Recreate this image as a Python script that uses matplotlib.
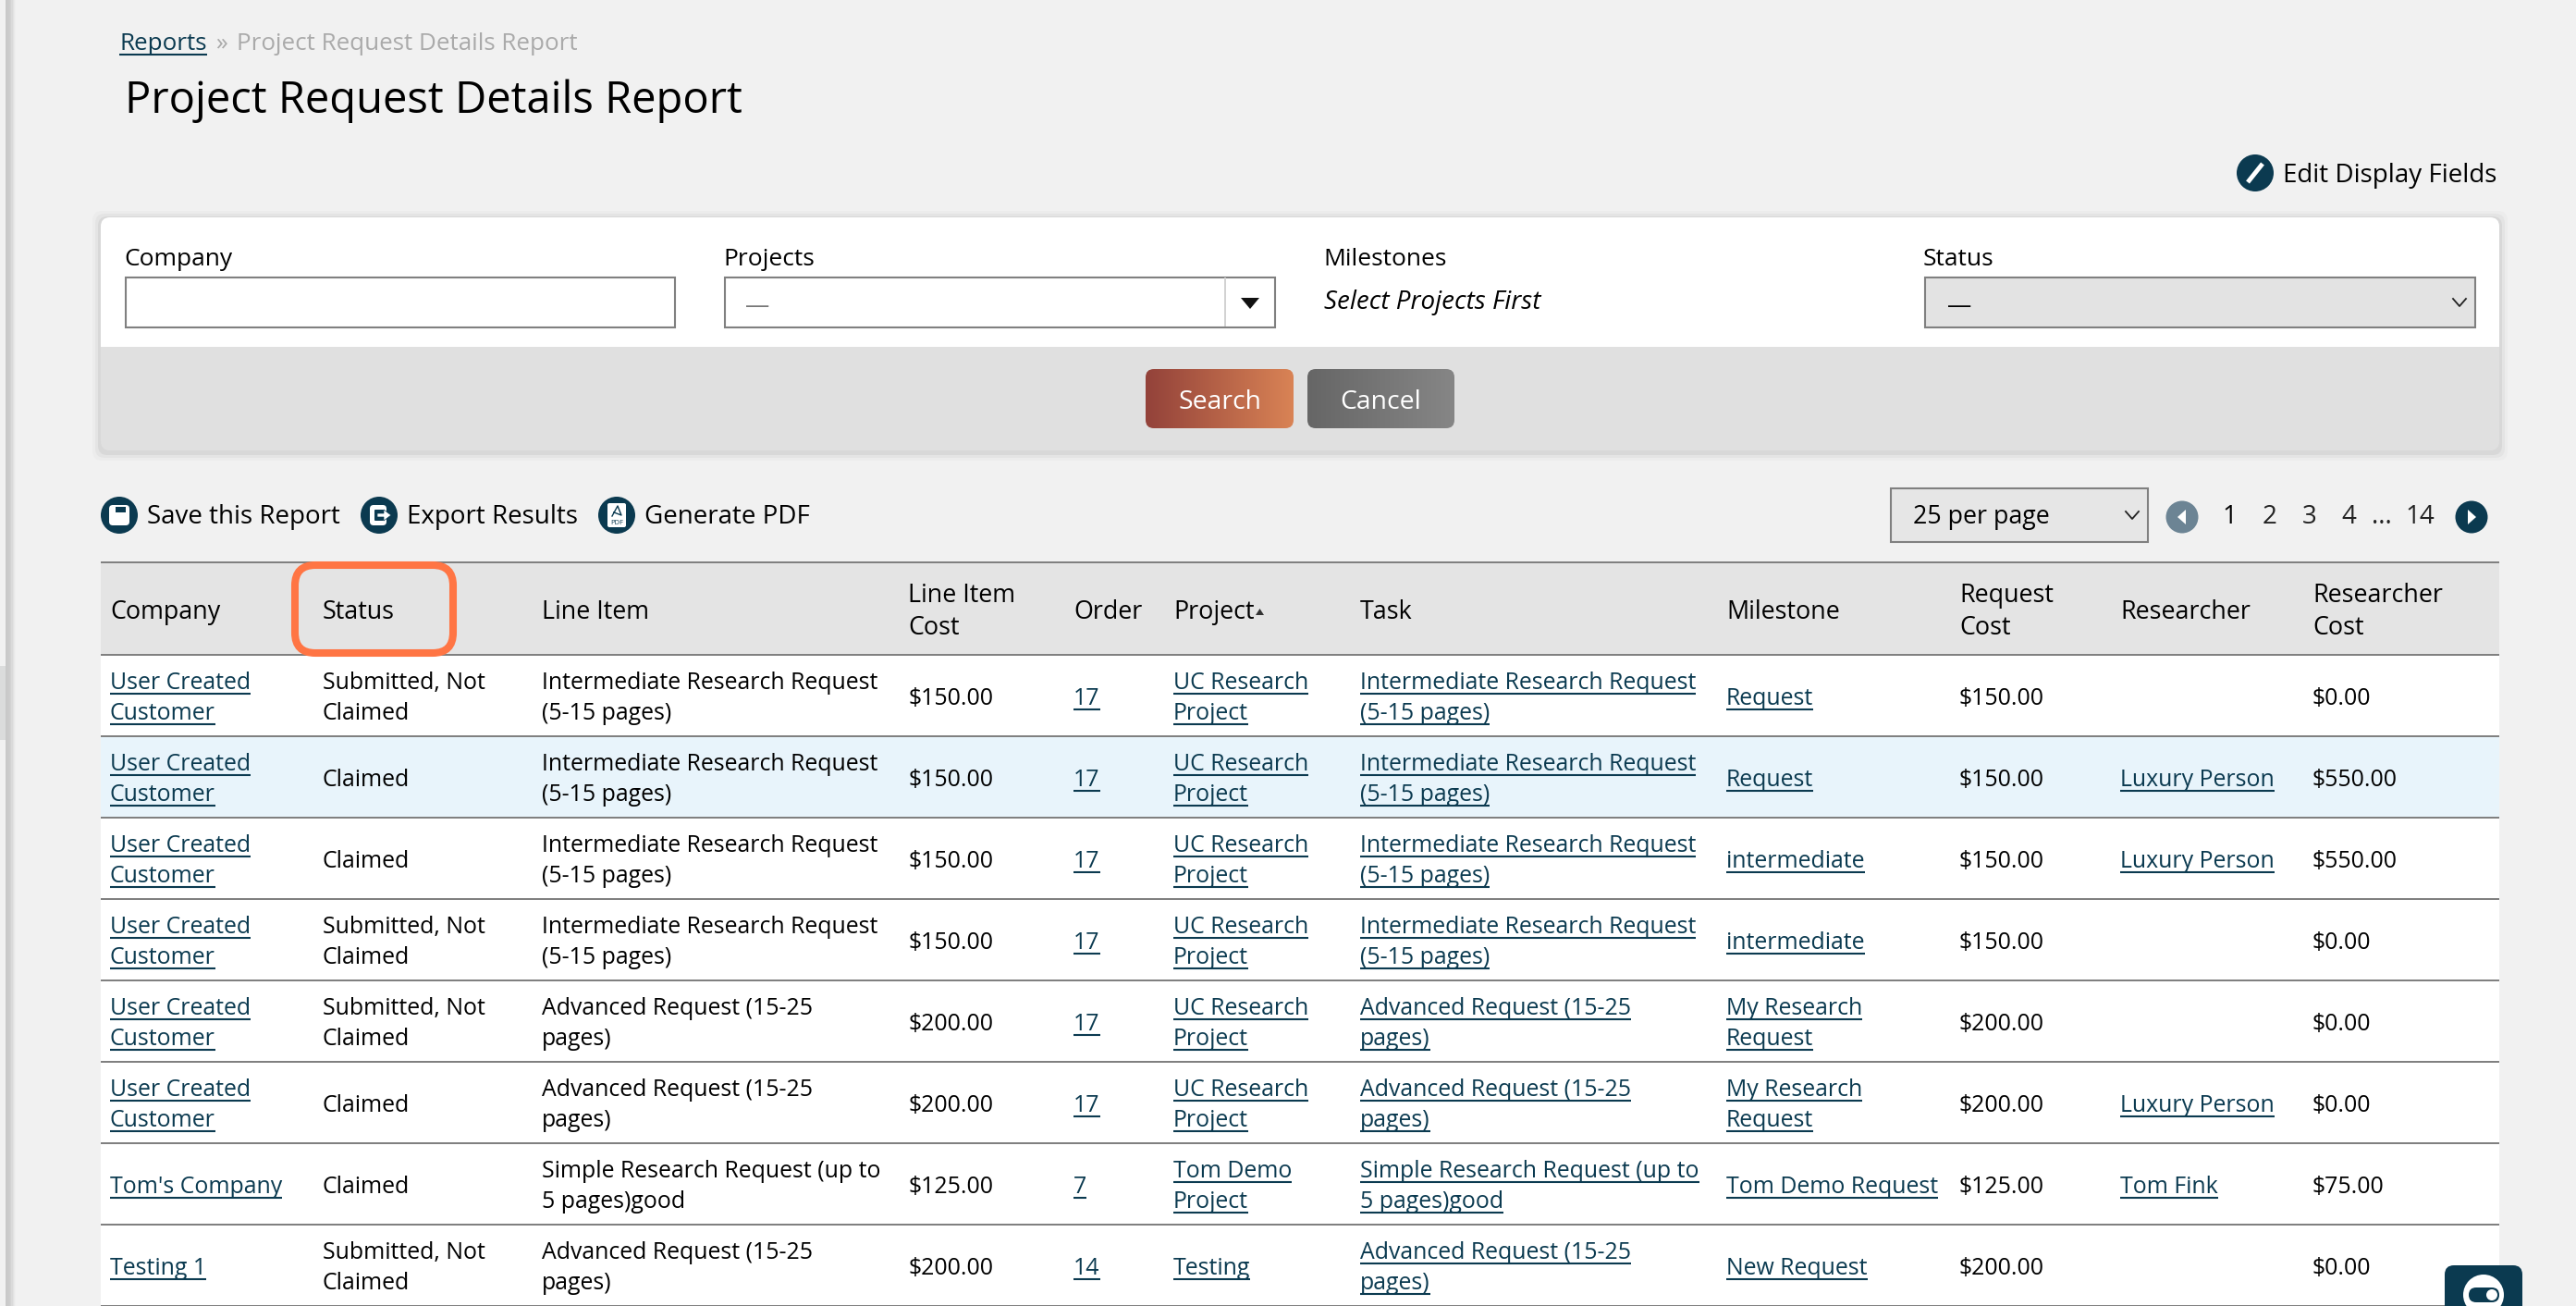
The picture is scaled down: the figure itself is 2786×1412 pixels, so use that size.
# Project Request Details Report, drawn on one pixel-sized axes
import matplotlib
matplotlib.use('Agg')
import matplotlib.pyplot as plt
from matplotlib.patches import FancyBboxPatch, Rectangle, Circle, Polygon
from matplotlib.colors import LinearSegmentedColormap
import numpy as np

W = 2786
H = 1412
plt.rcParams['font.family'] = ['Open Sans', 'DejaVu Sans']

DARK = '#0b3a50'
BORDER = '#808080'
CELL = 17.9
HEAD = 19.4
UI = 20.0
LABEL = 19.0

# table data
headers = ['Company', 'Status', 'Line Item', 'Line Item\nCost', 'Order', 'Project', 'Task',
           'Milestone', 'Request\nCost', 'Researcher', 'Researcher\nCost']
company = ['User Created\nCustomer'] * 6 + ["Tom's Company", 'Testing 1']
status = ['Submitted, Not\nClaimed', 'Claimed', 'Claimed', 'Submitted, Not\nClaimed',
          'Submitted, Not\nClaimed', 'Claimed', 'Claimed', 'Submitted, Not\nClaimed']
intermediate = 'Intermediate Research Request\n(5-15 pages)'
advanced = 'Advanced Request (15-25\npages)'
simple = 'Simple Research Request (up to\n5 pages)good'
line_item = [intermediate] * 4 + [advanced] * 2 + [simple, advanced]
line_cost = ['$150.00'] * 4 + ['$200.00'] * 2 + ['$125.00', '$200.00']
order = ['17', '17', '17', '17', '17', '17', '7', '14']
project = ['UC Research\nProject'] * 6 + ['Tom Demo\nProject', 'Testing']
task = [intermediate] * 4 + [advanced] * 2 + [simple, advanced]
milestone = ['Request', 'Request', 'intermediate', 'intermediate', 'My Research\nRequest',
             'My Research\nRequest', 'Tom Demo Request', 'New Request']
req_cost = line_cost
researcher = ['', 'Luxury Person', 'Luxury Person', '', '', 'Luxury Person', 'Tom Fink', '']
researcher_cost = ['$0.00', '$550.00', '$550.00', '$0.00', '$0.00', '$0.00', '$75.00', '$0.00']

columns = [company, status, line_item, line_cost, order, project, task, milestone,
           req_cost, researcher, researcher_cost]
column_x = [119, 349, 586, 982, 1161, 1269, 1471, 1867, 2119, 2293, 2501]
column_link = [True, False, False, False, True, True, True, True, False, True, False]
page_labels = ['1', '2', '3', '4', '...', '14']
page_x = [2411, 2455, 2498, 2540, 2576, 2617]

fig = plt.figure(figsize=(W / 100, H / 100), dpi=100, facecolor='#f1f1f1')
ax = fig.add_axes([0, 0, 1, 1])
ax.set_axis_off()
ax.set_xlim(0, W)
ax.set_ylim(H, 0)
renderer = fig.canvas.get_renderer()


def rect(x0, y0, x1, y1, fc, ec='none', lw=0, z=2):
    ax.add_patch(Rectangle((x0, y0), x1 - x0, y1 - y0, fc=fc, ec=ec, lw=lw, zorder=z))


def rrect(x0, y0, x1, y1, r, fc, ec='none', lw=0, z=2, alpha=None):
    p = FancyBboxPatch((x0 + r, y0 + r), x1 - x0 - 2 * r, y1 - y0 - 2 * r,
                       boxstyle='round,pad=%f,rounding_size=%f' % (r, r),
                       fc=fc, ec=ec, lw=lw, zorder=z, alpha=alpha)
    ax.add_patch(p)
    return p


def label(x, y, s, size=CELL, color='black', ha='left', link=False, **kw):
    t = ax.text(x, y, s, fontsize=size, color=color, ha=ha, va='baseline', zorder=6, **kw)
    if link:
        box = t.get_window_extent(renderer)
        ax.plot([box.x0, box.x1], [y + 4.5, y + 4.5], color=DARK, lw=1.5, solid_capstyle='butt', zorder=6)
    return t


def cell(x, center, s, link):
    color = DARK if link else 'black'
    lines = s.split('\n')
    if len(lines) == 1:
        label(x, center + 10, s, color=color, link=link)
    else:
        label(x, center - 7, lines[0], color=color, link=link)
        label(x, center + 26, lines[1], color=color, link=link)


def chevron(x, y):
    ax.plot([x - 7, x, x + 7], [y - 4, y + 4, y - 4], color='#222222', lw=1.3, zorder=6)


def icon(x, y, r=20, fc=DARK):
    ax.add_patch(Circle((x, y), r, fc=fc, ec='none', zorder=4))


def gradient_button(x0, y0, x1, y1, c0, c1):
    button = rrect(x0, y0, x1, y1, 9, 'none')
    shade = ax.imshow(np.linspace(0, 1, 256).reshape(1, -1), extent=(x0, x1, y1, y0), aspect='auto',
                      cmap=LinearSegmentedColormap.from_list('btn', [c0, c1]), zorder=3)
    shade.set_clip_path(button)


# sidebar edge
rect(6, 0, 7, H, '#c8c8c8')
for i, c in enumerate(['#c9c9c9', '#cbcbcb', '#cecece', '#d3d3d3', '#dadada', '#e2e2e2', '#e9e9e9', '#eeeeee']):
    rect(7 + i * 1.3, 0, 7 + (i + 1) * 1.3, H, c)
rect(0, 720, 6, 800, '#dbdcdc')

# breadcrumb and title
label(129, 54, 'Reports', size=18.7, color=DARK, link=True)
label(233, 54, '»', size=18.7, color='#aaaaaa')
label(256, 54, 'Project Request Details Report', size=18.7, color='#aaaaaa')
label(135, 122, 'Project Request Details Report', size=33.9)

# edit link
icon(2439, 187)
ax.plot([2431, 2447], [197, 177], color='white', lw=3.5, solid_capstyle='butt', zorder=5)
label(2469, 197, 'Edit Display Fields', size=UI)

# filter card with soft shadow
for grow, a in [(9, 0.02), (6, 0.03), (3, 0.05)]:
    rrect(109 - grow, 235 - grow + 2, 2703 + grow, 487 + grow + 2, 10, 'black', alpha=a, z=1)
rrect(109, 235, 2703, 487, 10, '#e0e0e0')
rrect(109, 235, 2703, 300, 10, 'white')
rect(109, 250, 2703, 375, 'white')

label(134, 287, 'Company', size=LABEL)
rect(135.5, 299.5, 730, 354, 'white', BORDER, 1.5)
label(782, 287, 'Projects', size=LABEL)
rect(783.5, 299.5, 1379, 354, 'white', BORDER, 1.5)
rect(1324, 300, 1326, 353, '#d2d2d2', z=3)
label(806, 338, '—', size=LABEL, color='#777777')
ax.add_patch(Polygon([[1342, 322], [1362, 322], [1352, 334]], fc='#111111', ec='none', zorder=5))
label(1431, 287, 'Milestones', size=LABEL)
label(1432, 334, 'Select Projects First', size=UI, style='italic')
label(2080, 287, 'Status', size=LABEL)
rect(2081.5, 299.5, 2677, 354, '#e3e3e3', BORDER, 1.5)
label(2106, 338, '—', size=LABEL)
chevron(2660, 327)

# buttons
gradient_button(1239, 399, 1399, 463, '#93423a', '#d98355')
label(1319, 442, 'Search', size=20.4, color='white', ha='center')
gradient_button(1414, 399, 1573, 463, '#666666', '#868686')
label(1493, 442, 'Cancel', size=20.4, color='white', ha='center')

# action row
icon(129, 557)
rrect(118, 546, 140, 568, 4, 'white', z=5)
rect(125, 548, 136, 554, DARK, z=5)
label(159, 566, 'Save this Report', size=UI)
icon(410, 557)
rrect(400, 546, 418, 568, 4, 'white', z=5)
rrect(405, 551, 415, 563, 1, DARK, z=5)
ax.add_patch(Polygon([[408, 555], [415, 555], [415, 551], [423, 557], [415, 563], [415, 559], [408, 559]],
                     fc='white', ec=DARK, lw=0.5, zorder=5))
label(440, 566, 'Export Results', size=UI)
icon(667, 557)
rrect(657, 544, 677, 570, 2, 'white', z=5)
ax.text(667, 567, 'PDF', fontsize=5.5, color=DARK, ha='center', va='baseline', zorder=6)
ax.plot([662, 668, 672, 664], [558, 547, 557, 554], color=DARK, lw=1, zorder=6)
label(697, 566, 'Generate PDF', size=UI)

# paging
rect(2044.5, 527.5, 2323, 586, '#e6e6e6', BORDER, 1.5)
label(2069, 566, '25 per page', size=19.3)
chevron(2306, 557)
icon(2360, 559, 17.5, '#6c8494')
ax.add_patch(Polygon([[2364, 551], [2364, 567], [2355, 559]], fc='white', ec='none', zorder=5))
for x, s in zip(page_x, page_labels):
    label(x, 566, s, size=UI, color='black' if s == '1' else '#222222', ha='center')
icon(2673, 559, 17.5)
ax.add_patch(Polygon([[2669, 551], [2669, 567], [2678, 559]], fc='white', ec='none', zorder=5))

# table
rows_top = 708
row_h = 88
n_rows = len(company)
rect(109, 608, 2703, 708, '#e4e4e4')
rect(109, 708, 2703, H, 'white')
rect(109, rows_top + row_h, 2703, rows_top + 2 * row_h, '#e8f4fb')
rect(109, 606.5, 2703, 609, BORDER, z=3)
for i in range(n_rows + 1):
    y = rows_top + i * row_h
    rect(109, y - 1.2, 2703, y + 1.2, BORDER, z=3)

for x, s in zip(column_x, headers):
    parts = s.split('\n')
    if len(parts) == 1:
        label(x, 669, s, size=HEAD)
    else:
        label(x, 651, parts[0], size=HEAD)
        label(x, 686, parts[1], size=HEAD)
ax.add_patch(Polygon([[1358, 665], [1367, 665], [1362.5, 658]], fc='#333333', ec='none', zorder=5))

for i in range(n_rows):
    center = rows_top + row_h * i + row_h / 2
    for x, col, is_link in zip(column_x, columns, column_link):
        if col[i]:
            cell(x, center, col[i], is_link)

# orange highlight round the Status header
rrect(319, 611, 490, 706, 22, 'none', '#ff7544', 5.8, z=7)

# chat widget
rrect(2644, 1368, 2728, 1440, 10, DARK, z=8)
ax.add_patch(Circle((2686, 1400), 22, fc='white', ec='none', zorder=9))
rrect(2670, 1392, 2703, 1408, 8, DARK, z=10)
ax.add_patch(Circle((2695, 1400), 6, fc='white', ec='none', zorder=11))

ax.set_xlim(0, W)
ax.set_ylim(H, 0)
fig.savefig('out.png', dpi=100, facecolor=fig.get_facecolor())
plt.close(fig)
